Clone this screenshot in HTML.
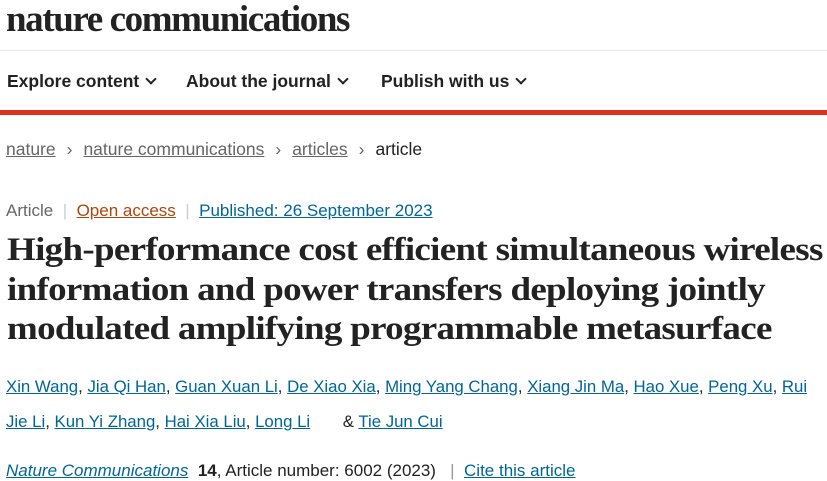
<!DOCTYPE html>
<html><head><meta charset="utf-8"><style>
body{margin:0;width:827px;height:481px;overflow:hidden;background:#fff;font-family:"Liberation Sans",sans-serif;color:#222;position:relative}
.a{position:absolute;white-space:nowrap}
.logo{left:6px;top:-2px;font-family:"Liberation Serif",serif;font-size:37px;font-weight:bold;letter-spacing:-1.4px;color:#222}
.nav{top:71px;font-size:17.5px;font-weight:bold;color:#222}
.chev{display:inline-block;width:6px;height:6px;border-right:2px solid #222;border-bottom:2px solid #222;transform:rotate(45deg);margin-left:8px;position:relative;top:-4px}
.bc{top:139px;font-size:17.5px;color:#666}
.bc u{color:#666}
.sep{color:#666;margin:0 11px}
.meta{top:201px;font-size:17px}
.ttl{left:7px;font-family:"Liberation Serif",serif;font-weight:bold;font-size:33px;letter-spacing:-0.6px;color:#222;transform-origin:0 0;transform:scaleX(1.12)}
.au{font-size:16.8px;color:#222}
.au u{color:#069}
</style></head><body>
<div class="a logo">nature communications</div>
<div class="a" style="left:0;top:50px;width:827px;height:1px;background:#e8e8e8"></div>
<div class="a nav" style="left:7px">Explore content<span class="chev"></span></div>
<div class="a nav" style="left:186px">About the journal<span class="chev"></span></div>
<div class="a nav" style="left:381px">Publish with us<span class="chev"></span></div>
<div class="a" style="left:0;top:110px;width:827px;height:5px;background:#e0301e"></div>
<div class="a bc" style="left:6px"><u>nature</u><span class="sep">›</span><u>nature communications</u><span class="sep">›</span><u>articles</u><span class="sep">›</span><span style="color:#222">article</span></div>
<div class="a meta" style="left:6px;color:#666">Article &nbsp;<span style="color:#ccc">|</span>&nbsp; <u style="color:#b0460a">Open access</u> &nbsp;<span style="color:#ccc">|</span>&nbsp; <u style="color:#069">Published: 26 September 2023</u></div>
<div class="a ttl" style="top:232px">High-performance cost efficient simultaneous wireless</div>
<div class="a ttl" style="top:272px">information and power transfers deploying jointly</div>
<div class="a ttl" style="top:311px">modulated amplifying programmable metasurface</div>
<div class="a au" style="left:6px;top:377px"><u>Xin Wang</u>, <u>Jia Qi Han</u>, <u>Guan Xuan Li</u>, <u>De Xiao Xia</u>, <u>Ming Yang Chang</u>, <u>Xiang Jin Ma</u>, <u>Hao Xue</u>, <u>Peng Xu</u>, <u>Rui</u></div>
<div class="a au" style="left:6px;top:412px"><u>Jie Li</u>, <u>Kun Yi Zhang</u>, <u>Hai Xia Liu</u>, <u>Long Li</u> &nbsp;&nbsp;&nbsp;&nbsp;&nbsp; &amp; <u>Tie Jun Cui</u></div>
<div class="a au" style="left:6px;top:461px;font-size:17px"><u style="font-style:italic">Nature Communications</u> &nbsp;<b>14</b>, Article number: 6002 (2023) &nbsp;&nbsp;<span style="color:#999">|</span>&nbsp; <u>Cite this article</u></div>
</body></html>
